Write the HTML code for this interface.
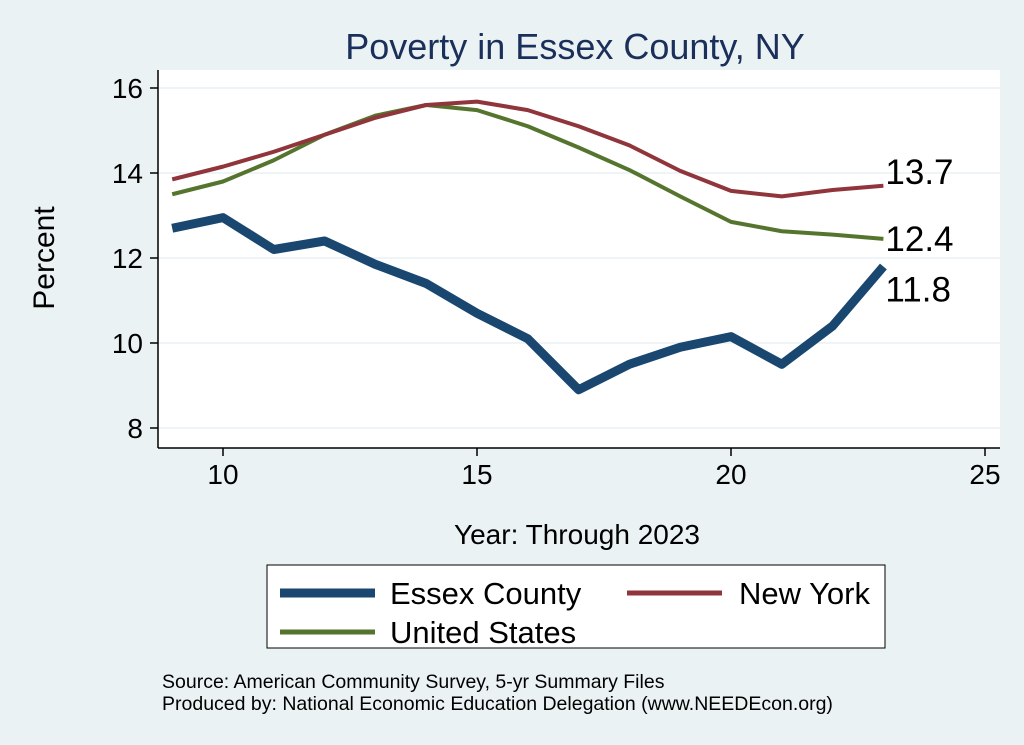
<!DOCTYPE html>
<html><head><meta charset="utf-8"><style>
body{margin:0;background:#eaf2f3;}
svg{display:block;font-family:"Liberation Sans",sans-serif;}
</style></head><body>
<svg width="1024" height="745">
<rect x="0" y="0" width="1024" height="745" fill="#eaf2f3"/>
<rect x="158" y="70" width="842" height="378" fill="#fff"/>
<text x="575" y="59" text-anchor="middle" font-size="36" fill="#1a2f5a">Poverty in Essex County, NY</text>
<g id="grid"></g>
<line x1="158" y1="70" x2="158" y2="448" stroke="#000" stroke-width="1.5"/>
<line x1="158" y1="448" x2="1000" y2="448" stroke="#000" stroke-width="1.5"/>
<g id="ticks"></g>
<text x="54" y="258" text-anchor="middle" font-size="30" transform="rotate(-90 54 258)">Percent</text>
<text x="577" y="544" text-anchor="middle" font-size="28">Year: Through 2023</text>
<g id="series"></g>
<g>
<rect x="267" y="565" width="618" height="83" fill="#fff" stroke="#000" stroke-width="1"/>
<line x1="280" y1="593" x2="375" y2="593" stroke="#1a476f" stroke-width="9"/>
<text x="390" y="604" font-size="31">Essex County</text>
<line x1="627" y1="593" x2="722" y2="593" stroke="#90353b" stroke-width="5"/>
<text x="739" y="604" font-size="31">New York</text>
<line x1="280" y1="632" x2="375" y2="632" stroke="#55752f" stroke-width="5"/>
<text x="390" y="643" font-size="31">United States</text>
</g>
<text x="162" y="688" font-size="19.5">Source: American Community Survey, 5-yr Summary Files</text>
<text x="162" y="710" font-size="19.5">Produced by: National Economic Education Delegation (www.NEEDEcon.org)</text>
</svg>
<script>
const years=[9,10,11,12,13,14,15,16,17,18,19,20,21,22,23];
const essex=[12.7,12.95,12.2,12.4,11.85,11.4,10.7,10.1,8.9,9.5,9.9,10.15,9.5,10.4,11.8];
const newYork=[13.85,14.15,14.5,14.9,15.3,15.6,15.68,15.48,15.1,14.65,14.05,13.58,13.45,13.6,13.7];
const unitedStates=[13.5,13.8,14.3,14.9,15.35,15.6,15.48,15.1,14.6,14.07,13.45,12.85,12.63,12.55,12.45];
const yTicks=[8,10,12,14,16];
const xTicks=[10,15,20,25];
const endLabels=["11.8","13.7","12.4"];
const NS="http://www.w3.org/2000/svg";
const xs=v=>223+(v-10)*50.8;
const ys=v=>428-(v-8)*42.5;
const grid=document.getElementById('grid'),ticks=document.getElementById('ticks'),ser=document.getElementById('series');
function mk(tag,attrs,parent){const e=document.createElementNS(NS,tag);for(const k in attrs)e.setAttribute(k,attrs[k]);parent.appendChild(e);return e;}
yTicks.forEach(t=>{
 const g=mk('line',{x1:158,x2:1000,y1:ys(t),y2:ys(t),stroke:'#eaf2f3','stroke-width':1.5},grid);
 
 
 const l=mk('line',{x1:150,x2:158,y1:ys(t),y2:ys(t),stroke:'#000','stroke-width':1.5},ticks);
 
 
 const tx=mk('text',{x:143,y:ys(t)+10,'text-anchor':'end','font-size':28},ticks);tx.textContent=t;
 
 
});
xTicks.forEach(t=>{
 const l=mk('line',{x1:xs(t),x2:xs(t),y1:448,y2:456,stroke:'#000','stroke-width':1.5},ticks);
 
 
 const tx=mk('text',{x:xs(t),y:484,'text-anchor':'middle','font-size':28},ticks);tx.textContent=t;
 
 
});
function line(vals,color,w,name){
 const p=mk('polyline',{points:years.map((y,i)=>xs(y)+','+ys(vals[i])).join(' '),fill:'none',stroke:color,'stroke-width':w,'stroke-linejoin':'round'},ser);
 
 
}
line(unitedStates,'#55752f',4,'line-united-states');
line(newYork,'#90353b',4,'line-new-york');
line(essex,'#1a476f',9,'line-essex-county');
const n=years.length-1,lx=xs(years[n])+2;
[[essex,endLabels[0],35,'label-essex-end'],[newYork,endLabels[1],-2,'label-ny-end'],[unitedStates,endLabels[2],12,'label-us-end']].forEach(([v,t,dy,nm])=>{
 const tx=mk('text',{x:lx,y:ys(v[n])+dy,'font-size':35},ser);tx.textContent=t;
 
 
});
</script>
</body></html>
